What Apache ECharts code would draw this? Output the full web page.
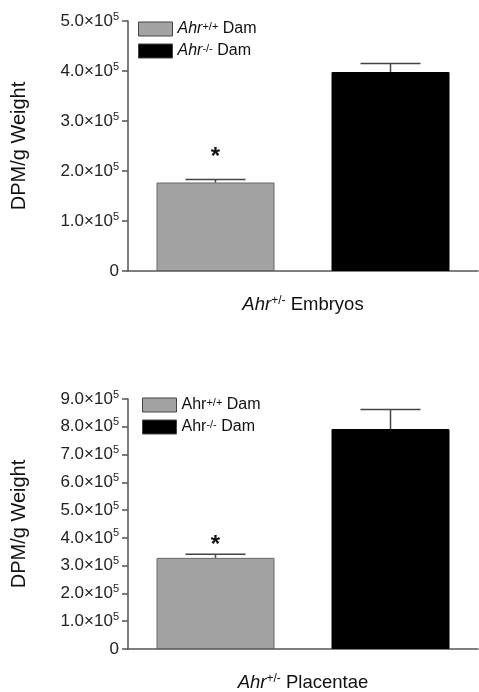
<!DOCTYPE html>
<html>
<head>
<meta charset="utf-8">
<script src="https://cdn.jsdelivr.net/npm/echarts@6/dist/echarts.min.js"></script>
<style>
  html, body { margin: 0; padding: 0; background: #fff; }
  #chart { width: 479px; height: 692px; }
</style>
</head>
<body>
<div id="chart"></div>
<script>
  // groups (dams) and the values
  var damGroups = ['wt', 'ko'];
  var embryoMeans = [1.77e5, 3.98e5];
  var embryoErr = [0.06e5, 0.17e5];
  var placentaMeans = [3.28e5, 7.92e5];
  var placentaErr = [0.13e5, 0.70e5];
  var significant = [true, false];
  var embryoMax = 5e5;
  var placentaMax = 9e5;

  var FONT = 'Liberation Sans, Arial, sans-serif';
  var GRAY = '#a3a3a3';
  var AXIS = '#555';

  var chart = echarts.init(document.getElementById('chart'));

  function tickLabel(v) {
    if (v === 0) return '0';
    return (v / 1e5).toFixed(1) + '×10{s|5}';
  }

  function yAxis(gi, max) {
    return {
      type: 'value',
      gridIndex: gi,
      min: 0,
      max: max,
      interval: 1e5,
      name: 'DPM/g Weight',
      nameLocation: 'middle',
      nameGap: 99,
      nameTextStyle: { fontFamily: FONT, fontSize: 20, color: '#111' },
      axisLine: { show: true, lineStyle: { color: AXIS, width: 1.5 } },
      axisTick: { show: true, length: 6, lineStyle: { color: AXIS, width: 1.5 } },
      splitLine: { show: false },
      axisLabel: {
        formatter: tickLabel,
        margin: 9,
        fontFamily: FONT,
        fontSize: 17,
        color: '#222',
        lineHeight: 20,
        rich: { s: { fontSize: 11, verticalAlign: 'top', lineHeight: 20, color: '#222' } }
      }
    };
  }

  function xAxis(gi, italicLabel, rest) {
    return {
      type: 'category',
      gridIndex: gi,
      data: damGroups,
      name: '{i|' + italicLabel + '}{s|+/-} ' + rest,
      nameLocation: 'middle',
      nameGap: 24,
      nameTextStyle: {
        fontFamily: FONT, fontSize: 18.5, color: '#111',
        rich: {
          i: { fontFamily: FONT, fontSize: 18.5, fontStyle: 'italic', color: '#111' },
          s: { fontFamily: FONT, fontSize: 12, verticalAlign: 'top', color: '#111' }
        }
      },
      axisLine: { show: true, lineStyle: { color: AXIS, width: 1.5 } },
      axisTick: { show: false },
      axisLabel: { show: false }
    };
  }

  function bars(prefix, gi, means) {
    return [
      {
        name: prefix + '0', type: 'bar', xAxisIndex: gi, yAxisIndex: gi,
        data: [means[0], '-'], barWidth: 118, barGap: '-100%',
        itemStyle: { color: GRAY, borderColor: '#666', borderWidth: 1 }
      },
      {
        name: prefix + '1', type: 'bar', xAxisIndex: gi, yAxisIndex: gi,
        data: ['-', means[1]], barWidth: 118, barGap: '-100%',
        itemStyle: { color: '#000', borderColor: '#000', borderWidth: 1 }
      }
    ];
  }

  function errorBars(gi, means, errs, starGap) {
    var data = means.map(function (m, i) { return [i, m, errs[i], significant[i] ? 1 : 0]; });
    return {
      type: 'custom', xAxisIndex: gi, yAxisIndex: gi, z: 5,
      data: data,
      renderItem: function (params, api) {
        var i = api.value(0);
        var base = api.coord([i, api.value(1)]);
        var top = api.coord([i, api.value(1) + api.value(2)]);
        var ls = { stroke: '#444', lineWidth: 1.5 };
        var kids = [
          { type: 'line', shape: { x1: base[0], y1: base[1], x2: top[0], y2: top[1] }, style: ls },
          { type: 'line', shape: { x1: top[0] - 30, y1: top[1], x2: top[0] + 30, y2: top[1] }, style: ls }
        ];
        if (api.value(3)) {
          kids.push({
            type: 'text',
            style: {
              text: '*', x: top[0], y: top[1] - starGap,
              fontFamily: FONT, fontSize: 24, fontWeight: 'bold', fill: '#111',
              align: 'center', verticalAlign: 'middle'
            }
          });
        }
        return { type: 'group', children: kids };
      }
    };
  }

  function legend(prefix, left, top, italic) {
    var rich = {
      i: { fontFamily: FONT, fontSize: 16, fontStyle: italic ? 'italic' : 'normal', color: '#111' },
      s: { fontFamily: FONT, fontSize: 11, verticalAlign: 'top', color: '#111' },
      n: { fontFamily: FONT, fontSize: 16, color: '#111' }
    };
    return {
      data: [prefix + '0', prefix + '1'],
      orient: 'vertical',
      left: left, top: top,
      itemWidth: 34, itemHeight: 14, itemGap: 6,
      icon: 'rect',
      selectedMode: false,
      itemStyle: { borderColor: '#444', borderWidth: 1 },
      formatter: function (name) {
        var sup = name.slice(-1) === '0' ? '+/+' : '-/-';
        return '{i|Ahr}{s|' + sup + '}{n| Dam}';
      },
      textStyle: { fontFamily: FONT, fontSize: 16, color: '#111', rich: rich }
    };
  }

  chart.setOption({
    animation: false,
    backgroundColor: '#fff',
    grid: [
      { left: 128, width: 350, top: 21, height: 250, outerBoundsMode: 'none' },
      { left: 128, width: 350, top: 399, height: 250, outerBoundsMode: 'none' }
    ],
    legend: [legend('e', 133, 16, true), legend('p', 137, 392, false)],
    xAxis: [xAxis(0, 'Ahr', 'Embryos'), xAxis(1, 'Ahr', 'Placentae')],
    yAxis: [yAxis(0, embryoMax), yAxis(1, placentaMax)],
    series: []
      .concat(bars('e', 0, embryoMeans))
      .concat(bars('p', 1, placentaMeans))
      .concat([errorBars(0, embryoMeans, embryoErr, 22), errorBars(1, placentaMeans, placentaErr, 9)])
  });
</script>
</body>
</html>
